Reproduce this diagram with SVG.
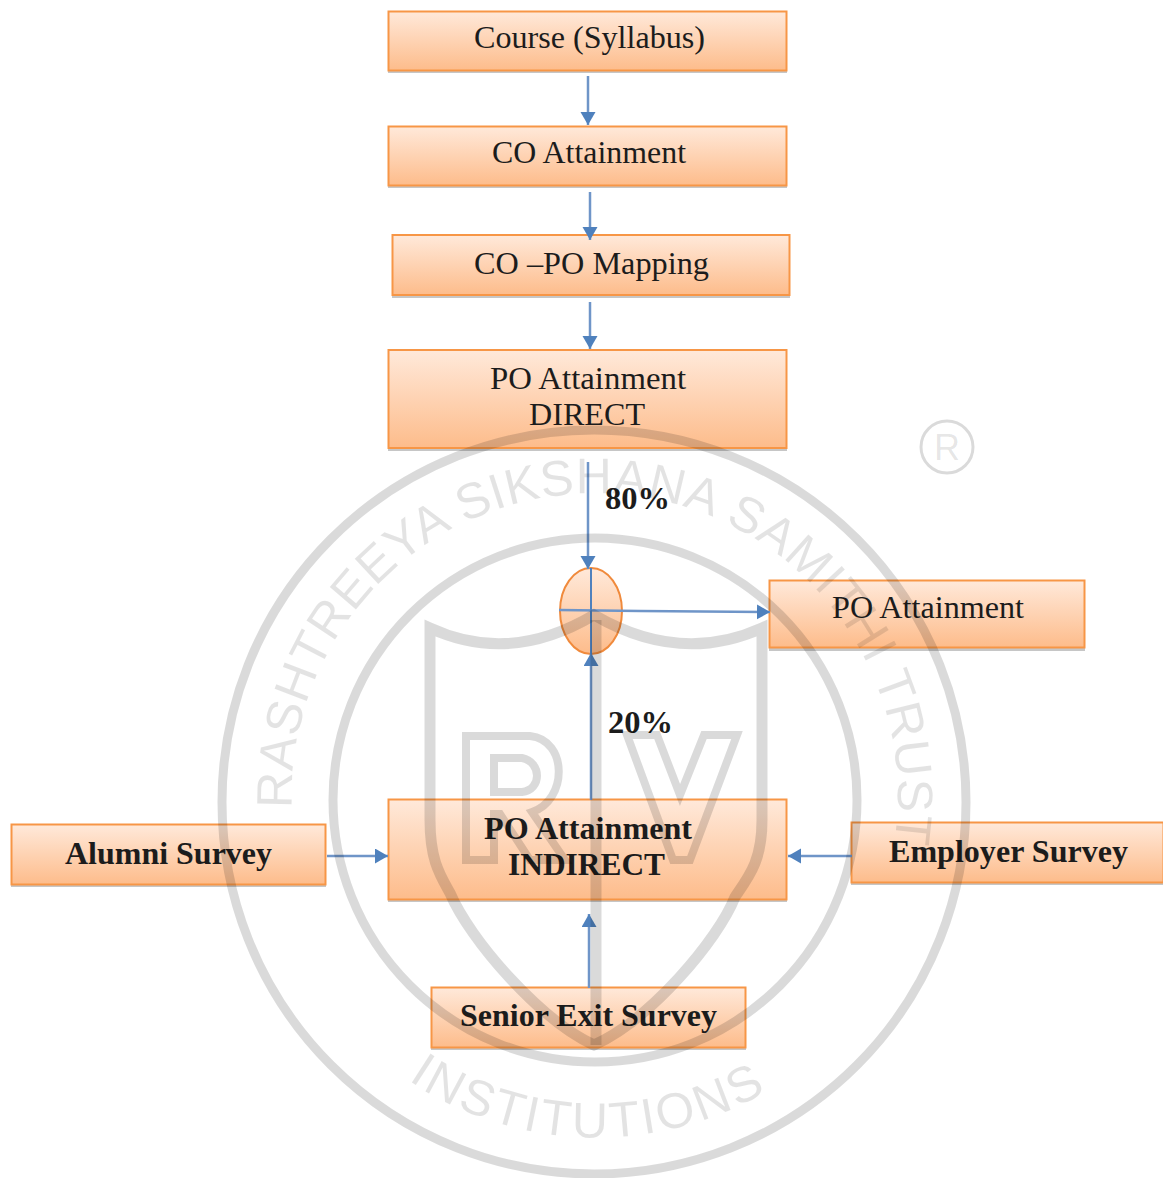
<svg xmlns="http://www.w3.org/2000/svg" width="1163" height="1178" viewBox="0 0 1163 1178">
<style>
.box{fill:url(#g);stroke:#f79646;stroke-width:2}
.sh{fill:#c6c6c6}
.t{font-family:"Liberation Serif",serif;font-size:31px;fill:#1c1c1c;text-anchor:middle}
.b{font-weight:bold}
.c{stroke:#6f95c8;stroke-width:2.5;fill:none;marker-end:url(#a)}
.w{fill:none;stroke:#000;stroke-opacity:.145}
.wt{font-family:"Liberation Sans",sans-serif;font-size:50px;fill:#000;fill-opacity:.11}
</style>
<defs>
<linearGradient id="g" x1="0" y1="0" x2="0" y2="1"><stop offset="0" stop-color="#ffe9da"/><stop offset="1" stop-color="#fdbc8b"/></linearGradient>
<marker id="a" markerUnits="userSpaceOnUse" markerWidth="14" markerHeight="16" refX="13" refY="7.500" orient="auto"><path d="M0 0L13 7.500L0 15Z" fill="#4f81bd"/></marker>
<path id="arcTop" d="M292 808A303 303 0 1 1 891 860"/>
<path id="arcBot" d="M408 1080A336 336 0 0 0 772 1088"/>
</defs>
<g id="n1"><rect class="sh" x="388" y="14" width="399" height="59"/><rect class="box" x="388.500" y="11.500" width="398" height="59"/><text class="t" x="589.500" y="48" textLength="231" lengthAdjust="spacingAndGlyphs">Course (Syllabus)</text></g>
<g id="n2"><rect class="sh" x="388" y="129" width="399" height="59"/><rect class="box" x="388.500" y="126.500" width="398" height="59"/><text class="t" x="589" y="163" textLength="194" lengthAdjust="spacingAndGlyphs">CO Attainment</text></g>
<g id="n3"><rect class="sh" x="392" y="238" width="398" height="60"/><rect class="box" x="392.500" y="235" width="397" height="60"/><text class="t" x="591.500" y="274" textLength="235" lengthAdjust="spacingAndGlyphs">CO –PO Mapping</text></g>
<g id="n4"><rect class="sh" x="388" y="353" width="399" height="98"/><rect class="box" x="388.500" y="350" width="398" height="98"/><text class="t" x="588" y="389" textLength="196" lengthAdjust="spacingAndGlyphs">PO Attainment</text><text class="t" x="587" y="425" textLength="116" lengthAdjust="spacingAndGlyphs">DIRECT</text></g>
<g id="n5"><ellipse cx="591" cy="611" rx="31" ry="43" fill="url(#g)" stroke="#f08a3c" stroke-width="2"/></g>
<g id="n6"><rect class="sh" x="769" y="583" width="316" height="68"/><rect class="box" x="769.500" y="580.500" width="315" height="67"/><text class="t" x="928" y="618" textLength="192" lengthAdjust="spacingAndGlyphs">PO Attainment</text></g>
<g id="n7"><rect class="sh" x="388" y="802" width="399" height="100"/><rect class="box" x="388.500" y="799.500" width="398" height="100"/><text class="t b" x="588" y="839" textLength="208" lengthAdjust="spacingAndGlyphs">PO Attainment</text><text class="t b" x="586.500" y="875" textLength="157" lengthAdjust="spacingAndGlyphs">INDIRECT</text></g>
<g id="n8"><rect class="sh" x="11" y="827" width="315" height="60"/><rect class="box" x="11.500" y="824.500" width="314" height="60"/><text class="t b" x="168.500" y="864" textLength="207" lengthAdjust="spacingAndGlyphs">Alumni Survey</text></g>
<g id="n9"><rect class="sh" x="851" y="825" width="312" height="60"/><rect class="box" x="851.500" y="822.500" width="312" height="60"/><text class="t b" x="1008.500" y="862" textLength="239" lengthAdjust="spacingAndGlyphs">Employer Survey</text></g>
<g id="n10"><rect class="sh" x="431" y="990" width="315" height="60"/><rect class="box" x="431.500" y="987.500" width="314" height="60"/><text class="t b" x="588.500" y="1026" textLength="257" lengthAdjust="spacingAndGlyphs">Senior Exit Survey</text></g>
<g id="connectors">
<path class="c" d="M588 76V125"/>
<path class="c" d="M590 192V240"/>
<path class="c" d="M590 302V349"/>
<path class="c" d="M588 462V569"/>
<path class="c" d="M559 610L640 611L770 612"/>
<path class="c" d="M591 800V653"/>
<path class="c" d="M327 856H388"/>
<path class="c" d="M852 856H788"/>
<path class="c" d="M589 988V914"/>
<path d="M591 568V654" stroke="#4f81bd" stroke-width="2" fill="none"/>
</g>
<text class="t b" x="637.500" y="509" textLength="65" lengthAdjust="spacingAndGlyphs">80%</text>
<text class="t b" x="640.500" y="733" textLength="65" lengthAdjust="spacingAndGlyphs">20%</text>
<g id="watermark">
<circle class="w" cx="594" cy="802" r="372" stroke-width="9"/>
<circle class="w" cx="595" cy="800" r="262" stroke-width="9"/>
<text class="wt"><textPath href="#arcTop" textLength="1010">RASHTREEYA SIKSHANA SAMITHI TRUST</textPath></text>
<text class="wt"><textPath href="#arcBot" textLength="378">INSTITUTIONS</textPath></text>
<path class="w" stroke-width="11" d="M430 628Q510 665 594 615Q680 665 762 628V820C762 860 750 875 735 897C718 940 650 1020 594 1045C540 1020 470 940 450 893C440 875 430 860 430 820Z"/>
<path class="w" stroke-width="11" d="M596 620V1045"/>
<path class="w" stroke-width="8" d="M466 860V736H530C568 740 568 800 532 812L565 860H530L500 814H494V860ZM494 758H522C542 762 542 790 522 792H494Z"/>
<path class="w" stroke-width="8" d="M627 735H657L680 795L704 735H737L690 860H673Z"/>
<circle class="w" cx="947" cy="447" r="26" stroke-width="3"/>
<text x="947" y="460" font-family="Liberation Sans,sans-serif" font-size="36" text-anchor="middle" fill="#000" fill-opacity=".11">R</text>
</g>
</svg>
